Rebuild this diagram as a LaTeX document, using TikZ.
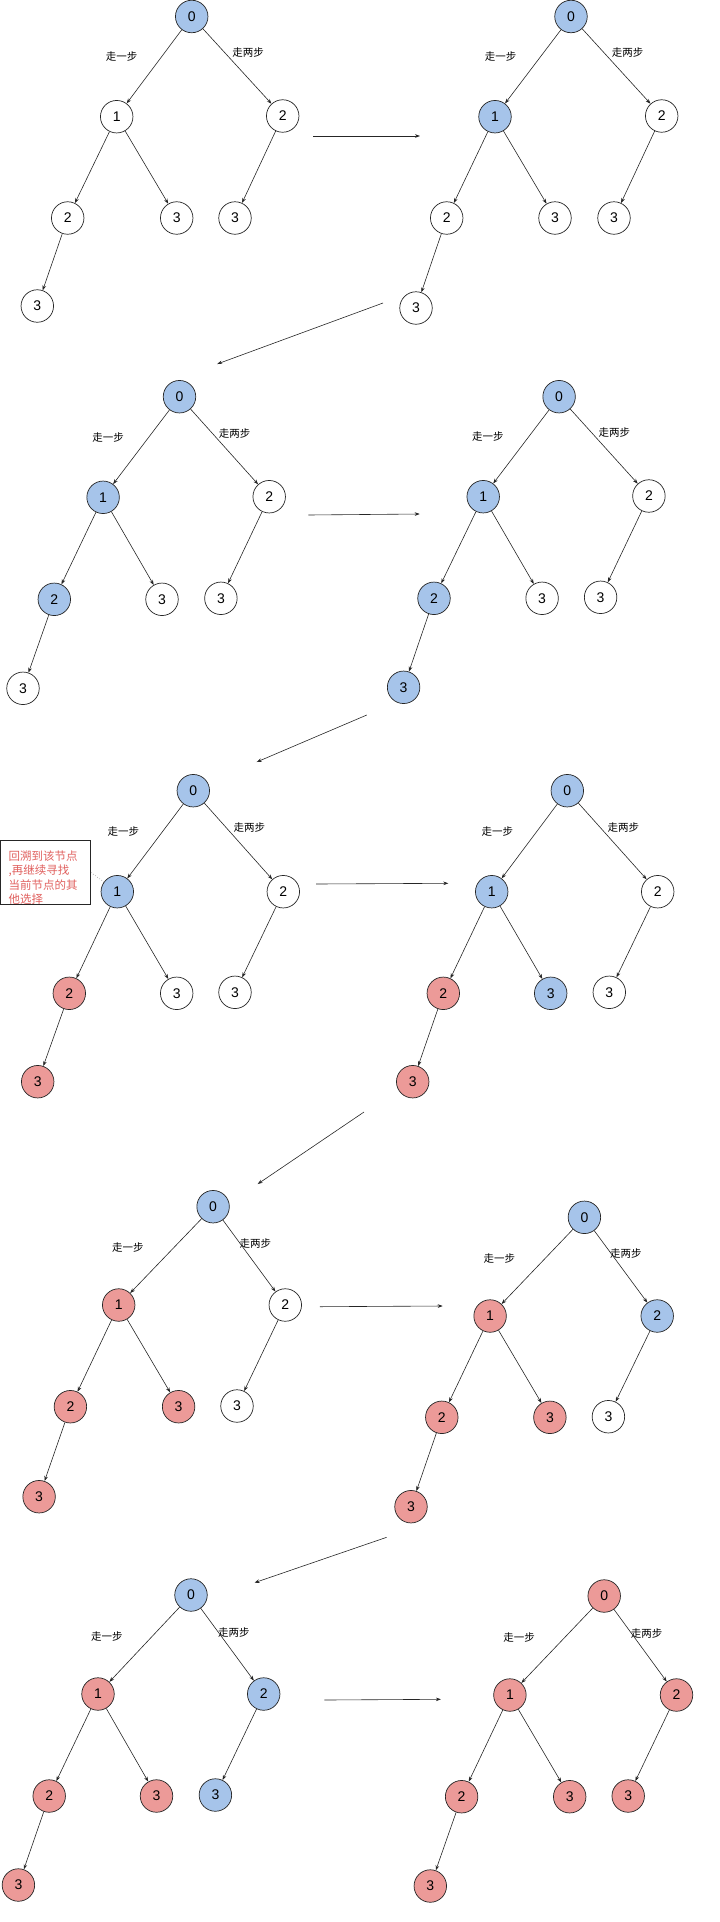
\documentclass[tikz,border=0pt]{standalone}
\usepackage{fontspec}
\setmainfont{Liberation Sans}
\newfontfamily\cjk{Noto Sans CJK SC}
\usetikzlibrary{arrows.meta}
\definecolor{visitblue}{HTML}{A6C4EA}
\definecolor{backred}{HTML}{EC9A98}
\definecolor{notered}{HTML}{E0605E}
\begin{document}
\begin{tikzpicture}[x=1pt, y=-1pt, >={Stealth[length=5pt,width=3.6pt]},
    link/.style={->, line width=0.6pt, draw=black!85},
    plain/.style={draw=black!85, line width=0.7pt, circle, minimum size=32.5pt, inner sep=0pt, fill=white, font=\fontsize{14}{16}\selectfont},
    visit/.style={plain, fill=visitblue},
    back/.style={plain, fill=backred},
    step label/.style={font=\cjk\fontsize{10.5}{12}\selectfont},
    note box/.style={draw=black!85, line width=0.6pt, rectangle, minimum width=90pt, minimum height=64pt},
    note text/.style={font=\cjk\fontsize{11.5}{14.4}\selectfont, text=notered, align=left, inner sep=0pt}]
    \useasboundingbox (0,0) rectangle (720,1922);

    % Tree a
    \node[visit] (a) at (191.7,16.5) {0};
    \node[plain] (a1) at (116.7,116.7) {1};
    \node[plain] (a2) at (282.7,116) {2};
    \node[plain] (a11) at (67.7,218) {2};
    \node[plain] (a12) at (176.7,218) {3};
    \node[plain] (a21) at (235,218) {3};
    \node[plain] (a111) at (37.3,306) {3};
    \node[step label] (a one) at (121.7,57) {走一步};
    \node[step label] (a two) at (248,53) {走两步};
    \draw[link] (a) edge (a1) edge (a2) (a1) edge (a11) edge (a12) (a2) edge (a21) (a11) edge (a111);

    % Tree b
    \node[visit] (b) at (571,16.5) {0};
    \node[visit] (b1) at (495,116.7) {1};
    \node[plain] (b2) at (661.7,116) {2};
    \node[plain] (b11) at (446.7,218) {2};
    \node[plain] (b12) at (555,218) {3};
    \node[plain] (b21) at (614,218) {3};
    \node[plain] (b111) at (416,308) {3};
    \node[step label] (b one) at (500.7,57) {走一步};
    \node[step label] (b two) at (627.7,53) {走两步};
    \draw[link] (b) edge (b1) edge (b2) (b1) edge (b11) edge (b12) (b2) edge (b21) (b11) edge (b111);

    % Tree c
    \node[visit] (c) at (179.5,396.7) {0};
    \node[visit] (c1) at (103.1,497.3) {1};
    \node[plain] (c2) at (269.2,496.7) {2};
    \node[visit] (c11) at (54.3,599.3) {2};
    \node[plain] (c12) at (162,599.3) {3};
    \node[plain] (c21) at (220.9,598.3) {3};
    \node[plain] (c111) at (23,688.3) {3};
    \node[step label] (c one) at (108.1,437.3) {走一步};
    \node[step label] (c two) at (234.7,433.3) {走两步};
    \draw[link] (c) edge (c1) edge (c2) (c1) edge (c11) edge (c12) (c2) edge (c21) (c11) edge (c111);

    % Tree d
    \node[visit] (d) at (559.1,396.7) {0};
    \node[visit] (d1) at (483.2,496.7) {1};
    \node[plain] (d2) at (648.9,496) {2};
    \node[visit] (d11) at (434,598.3) {2};
    \node[plain] (d12) at (542.1,598.3) {3};
    \node[plain] (d21) at (600.6,597.3) {3};
    \node[visit] (d111) at (403.6,687.3) {3};
    \node[step label] (d one) at (487.8,436.7) {走一步};
    \node[step label] (d two) at (614.4,432.7) {走两步};
    \draw[link] (d) edge (d1) edge (d2) (d1) edge (d11) edge (d12) (d2) edge (d21) (d11) edge (d111);

    % Tree e
    \node[visit] (e) at (193.3,790.7) {0};
    \node[visit] (e1) at (117.3,891.7) {1};
    \node[plain] (e2) at (283.3,891.7) {2};
    \node[back] (e11) at (69.3,993.3) {2};
    \node[plain] (e12) at (176.7,993.3) {3};
    \node[plain] (e21) at (235,992.3) {3};
    \node[back] (e111) at (37.7,1081.7) {3};
    \node[step label] (e one) at (123.3,831.7) {走一步};
    \node[step label] (e two) at (249.3,827.7) {走两步};
    \draw[link] (e) edge (e1) edge (e2) (e1) edge (e11) edge (e12) (e2) edge (e21) (e11) edge (e111);

    % Note on backtracking
    \node[note box] (note) at (45.7,872.5) {};
    \node[note text, anchor=west] (note words) at (8.5,877.5) {回溯到该节点\\,再继续寻找\\当前节点的其\\他选择};
    \draw[dotted, line width=0.6pt, draw=black!45] (note.east) -- (e1);

    % Tree f
    \node[visit] (f) at (567.3,790.7) {0};
    \node[visit] (f1) at (491.7,891.7) {1};
    \node[plain] (f2) at (657.7,891.7) {2};
    \node[back] (f11) at (443.3,993.3) {2};
    \node[visit] (f12) at (550.7,993.3) {3};
    \node[plain] (f21) at (609.3,992.3) {3};
    \node[back] (f111) at (412.7,1081.7) {3};
    \node[step label] (f one) at (497.3,831.7) {走一步};
    \node[step label] (f two) at (623.3,827.3) {走两步};
    \draw[link] (f) edge (f1) edge (f2) (f1) edge (f11) edge (f12) (f2) edge (f21) (f11) edge (f111);

    % Tree g
    \node[visit] (g) at (213.1,1206.7) {0};
    \node[back] (g1) at (118.7,1305) {1};
    \node[plain] (g2) at (285.3,1305) {2};
    \node[back] (g11) at (70.4,1406.7) {2};
    \node[back] (g12) at (178.6,1406.7) {3};
    \node[plain] (g21) at (237,1406) {3};
    \node[back] (g111) at (39.1,1496.7) {3};
    \node[step label] (g one) at (127.9,1247.7) {走一步};
    \node[step label] (g two) at (255.4,1243.3) {走两步};
    \draw[link] (g) edge (g1) edge (g2) (g1) edge (g11) edge (g12) (g2) edge (g21) (g11) edge (g111);

    % Tree h
    \node[visit] (h) at (584.4,1217.3) {0};
    \node[back] (h1) at (490.1,1316) {1};
    \node[visit] (h2) at (657.2,1316) {2};
    \node[back] (h11) at (441.8,1417.3) {2};
    \node[back] (h12) at (549.9,1417.3) {3};
    \node[plain] (h21) at (608.4,1416.7) {3};
    \node[back] (h111) at (411,1506.7) {3};
    \node[step label] (h one) at (499.3,1258.3) {走一步};
    \node[step label] (h two) at (625.9,1254) {走两步};
    \draw[link] (h) edge (h1) edge (h2) (h1) edge (h11) edge (h12) (h2) edge (h21) (h11) edge (h111);

    % Tree i
    \node[visit] (i) at (191,1595) {0};
    \node[back] (i1) at (98,1694) {1};
    \node[visit] (i2) at (263.7,1694) {2};
    \node[back] (i11) at (49.2,1796) {2};
    \node[back] (i12) at (156.5,1796) {3};
    \node[visit] (i21) at (215.4,1795) {3};
    \node[back] (i111) at (18.4,1885) {3};
    \node[step label] (i one) at (106.8,1636.7) {走一步};
    \node[step label] (i two) at (233.8,1632.3) {走两步};
    \draw[link] (i) edge (i1) edge (i2) (i1) edge (i11) edge (i12) (i2) edge (i21) (i11) edge (i111);

    % Tree j
    \node[back] (j) at (604.2,1596) {0};
    \node[back] (j1) at (509.9,1695) {1};
    \node[back] (j2) at (676.5,1695) {2};
    \node[back] (j11) at (461.6,1796.7) {2};
    \node[back] (j12) at (569.7,1796.7) {3};
    \node[back] (j21) at (628.2,1796) {3};
    \node[back] (j111) at (430.3,1886) {3};
    \node[step label] (j one) at (519.1,1637.3) {走一步};
    \node[step label] (j two) at (646.6,1633.3) {走两步};
    \draw[link] (j) edge (j1) edge (j2) (j1) edge (j11) edge (j12) (j2) edge (j21) (j11) edge (j111);

    % Steps from one picture to the next
    \coordinate (ab from) at (313,136);      \coordinate (ab to) at (420,136);
    \coordinate (bc from) at (383,303);      \coordinate (bc to) at (217.2,364);
    \coordinate (cd from) at (308.3,515);    \coordinate (cd to) at (419.7,514);
    \coordinate (de from) at (366.8,715);    \coordinate (de to) at (256.7,762);
    \coordinate (ef from) at (316,884);      \coordinate (ef to) at (448.3,883.3);
    \coordinate (fg from) at (364,1112);     \coordinate (fg to) at (257.7,1184);
    \coordinate (gh from) at (319.8,1306.7); \coordinate (gh to) at (442.7,1306);
    \coordinate (hi from) at (386.6,1537.3); \coordinate (hi to) at (254.5,1582.7);
    \coordinate (ij from) at (324.4,1700);   \coordinate (ij to) at (440.9,1699.3);
    \draw[link] (ab from) -- (ab to);
    \draw[link] (bc from) -- (bc to);
    \draw[link] (cd from) -- (cd to);
    \draw[link] (de from) -- (de to);
    \draw[link] (ef from) -- (ef to);
    \draw[link] (fg from) -- (fg to);
    \draw[link] (gh from) -- (gh to);
    \draw[link] (hi from) -- (hi to);
    \draw[link] (ij from) -- (ij to);
\end{tikzpicture}
\end{document}
